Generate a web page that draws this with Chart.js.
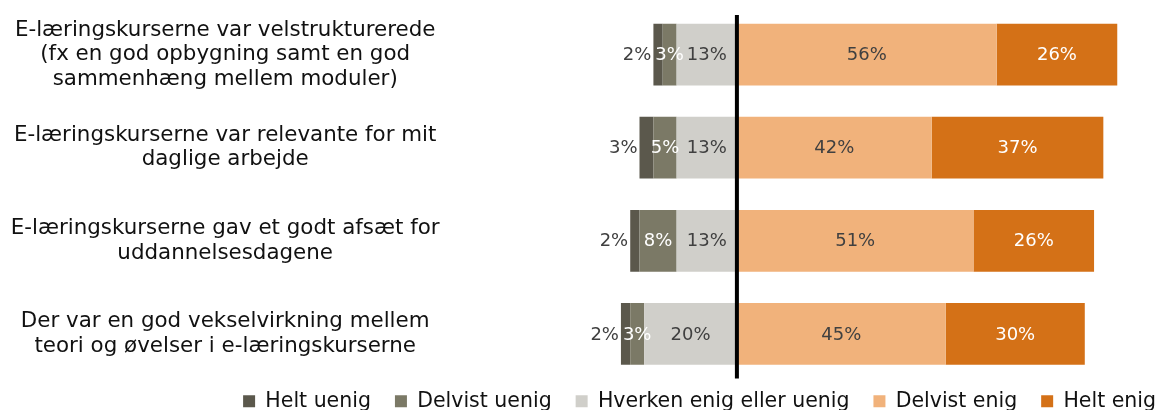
<!DOCTYPE html>
<html>
<head>
<meta charset="utf-8">
<script src="https://cdn.jsdelivr.net/npm/chart.js@4/dist/chart.umd.min.js"></script>
<style>
  html, body { margin: 0; padding: 0; background: #fff; }
  #wrap { width: 1159px; height: 410px; }
</style>
</head>
<body>
<div id="wrap"><canvas id="chart"></canvas></div>
<script>
// Statements (multi-line as in the original)
const categories = [
    ['E-læringskurserne var velstrukturerede', '(fx en god opbygning samt en god', 'sammenhæng mellem moduler)'],
    ['E-læringskurserne var relevante for mit', 'daglige arbejde'],
    ['E-læringskurserne gav et godt afsæt for', 'uddannelsesdagene'],
    ['Der var en god vekselvirkning mellem', 'teori og øvelser i e-læringskurserne']
];
const seriesNames = ['Helt uenig', 'Delvist uenig', 'Hverken enig eller uenig', 'Delvist enig', 'Helt enig'];
// Percent values per answer
const heltUenig = [2, 3, 2, 2];
const delvistUenig = [3, 5, 8, 3];
const hverken = [13, 13, 13, 20];
const delvistEnig = [56, 42, 51, 45];
const heltEnig = [26, 37, 26, 30];

const colors = ['#5b584c', '#7b7966', '#d0cfca', '#f1b27b', '#d47117'];
const labelColors = ['#404040', '#ffffff', '#404040', '#404040', '#ffffff'];
const FONT = "'DejaVu Sans', Verdana, sans-serif";

// disagreeing answers go to the left of the zero line
const values = [
    heltUenig.map(v => -v),
    delvistUenig.map(v => -v),
    hverken.map(v => -v),
    delvistEnig,
    heltEnig
];
// stacking order: neutral closest to zero, then delvist, then helt
const stackOrder = [2, 1, 0, 3, 4];

const datasets = seriesNames.map((name, i) => ({
    label: name,
    data: values[i],
    backgroundColor: colors[i],
    borderWidth: 0,
    order: stackOrder[i],
    categoryPercentage: 0.8,
    barPercentage: 0.83
}));

// percent labels on each segment
const segmentLabels = {
    id: 'segmentLabels',
    afterDatasetsDraw(chart) {
        const ctx = chart.ctx;
        ctx.save();
        ctx.font = '18px ' + FONT;
        ctx.textBaseline = 'middle';
        chart.data.datasets.forEach((ds, i) => {
            const meta = chart.getDatasetMeta(i);
            meta.data.forEach((bar, j) => {
                const txt = Math.abs(ds.data[j]) + '%';
                const left = Math.min(bar.x, bar.base);
                const right = Math.max(bar.x, bar.base);
                ctx.fillStyle = labelColors[i];
                if (i === 0) {
                    // tiny segment: label sits outside, left of the bar
                    ctx.textAlign = 'right';
                    ctx.fillText(txt, left - 2, bar.y + 1);
                } else {
                    ctx.textAlign = 'center';
                    ctx.fillText(txt, (left + right) / 2, bar.y + 1);
                }
            });
        });
        ctx.restore();
    }
};

// black zero line
const zeroLine = {
    id: 'zeroLine',
    afterDatasetsDraw(chart) {
        const x = chart.scales.x.getPixelForValue(0);
        const area = chart.chartArea;
        const ctx = chart.ctx;
        ctx.save();
        ctx.strokeStyle = '#000';
        ctx.lineWidth = 4;
        ctx.beginPath();
        ctx.moveTo(x, area.top + 7);
        ctx.lineTo(x, area.bottom - 2);
        ctx.stroke();
        ctx.restore();
    }
};

// legend sits low and to the right, like the original
const legendPlace = {
    id: 'legendPlace',
    afterInit(chart) {
        const lg = chart.legend;
        const fit = lg.fit;
        lg.fit = function() {
            fit.call(this);
            this.height = 29.5;
        };
    },
    afterLayout(chart) {
        const lg = chart.legend;
        lg.left += 21;
        lg.right += 21;
        lg.top = 367;
        lg.bottom = 410;
    }
};

new Chart(document.getElementById('chart'), {
    type: 'bar',
    data: { labels: categories, datasets },
    plugins: [segmentLabels, zeroLine, legendPlace],
    options: {
        indexAxis: 'y',
        responsive: true,
        maintainAspectRatio: false,
        animation: false,
        layout: { padding: { top: 8, right: 0, left: 0, bottom: 0 } },
        scales: {
            x: {
                stacked: true,
                min: -60,
                max: 91,
                display: false
            },
            y: {
                stacked: true,
                grid: { display: false, drawTicks: false },
                border: { display: false },
                ticks: {
                    crossAlign: 'center',
                    padding: 19,
                    color: '#111',
                    font: { family: FONT, size: 21.4, lineHeight: 1.14 }
                },
                afterFit(scale) {
                    scale.width = 458.6;
                    scale.paddingTop = 0;
                    scale.paddingBottom = 0;
                }
            }
        },
        plugins: {
            tooltip: { enabled: false },
            legend: {
                position: 'bottom',
                align: 'end',
                labels: {
                    boxWidth: 12,
                    boxHeight: 12,
                    padding: 24,
                    color: '#111',
                    font: { family: FONT, size: 20.5 },
                    sort: (a, b) => a.datasetIndex - b.datasetIndex
                }
            }
        }
    }
});
</script>
</body>
</html>
